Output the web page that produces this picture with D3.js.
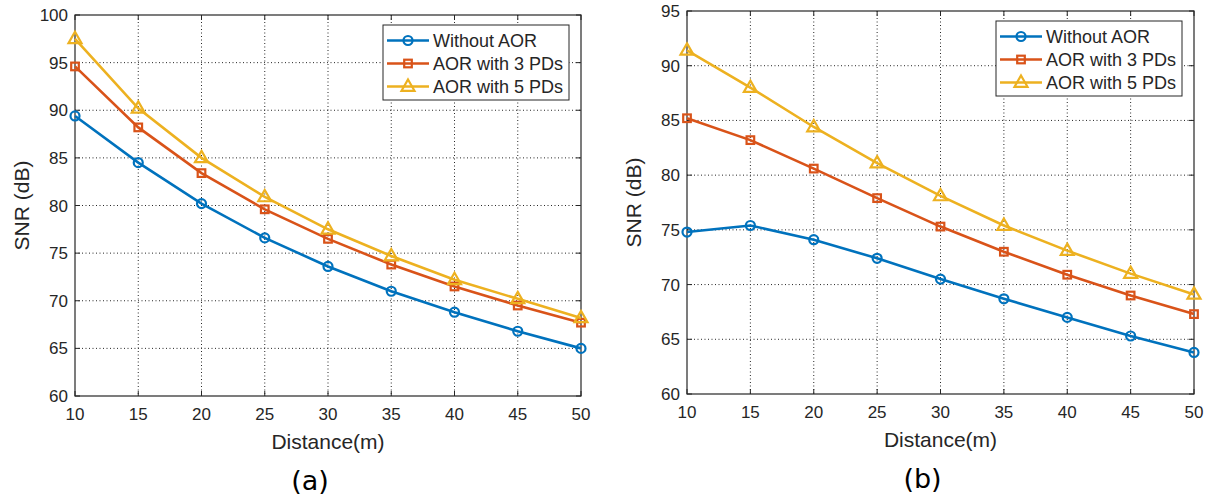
<!DOCTYPE html>
<html>
<head>
<meta charset="utf-8">
<script src="https://cdn.jsdelivr.net/npm/d3@7"></script>
<style>
  body { margin: 0; background: #fff; }
  text { font-family: "Liberation Sans", Arial, sans-serif; fill: #262626; }
</style>
</head>
<body>
<div id="graph"></div>
<script>
const distances = [10, 15, 20, 25, 30, 35, 40, 45, 50];
const seriesNames = ["Without AOR", "AOR with 3 PDs", "AOR with 5 PDs"];
const colors = ["#0072BD", "#D95319", "#EDB120"];

// panel (a)
const aWithout = [89.4, 84.5, 80.2, 76.6, 73.6, 71.0, 68.8, 66.8, 65.0];
const aPd3 = [94.6, 88.2, 83.4, 79.6, 76.5, 73.8, 71.5, 69.5, 67.7];
const aPd5 = [97.5, 90.2, 85.0, 80.9, 77.5, 74.7, 72.2, 70.2, 68.2];
const aTicksY = [60, 65, 70, 75, 80, 85, 90, 95, 100];

// panel (b)
const bWithout = [74.8, 75.4, 74.1, 72.4, 70.5, 68.7, 67.0, 65.3, 63.8];
const bPd3 = [85.2, 83.2, 80.6, 77.9, 75.3, 73.0, 70.9, 69.0, 67.3];
const bPd5 = [91.4, 88.0, 84.4, 81.1, 78.1, 75.4, 73.1, 71.0, 69.1];
const bTicksY = [60, 65, 70, 75, 80, 85, 90, 95];

const svg = d3.select("#graph").append("svg")
  .attr("width", 1207)
  .attr("height", 499);

function marker(g, i, x, y) {
  const c = colors[i];
  if (i === 0) {
    g.append("circle").attr("cx", x).attr("cy", y).attr("r", 4.5)
      .attr("fill", "none").attr("stroke", c).attr("stroke-width", 2.2);
  } else if (i === 1) {
    g.append("rect").attr("x", x - 3.8).attr("y", y - 3.8).attr("width", 7.6).attr("height", 7.6)
      .attr("fill", "none").attr("stroke", c).attr("stroke-width", 2.2);
  } else {
    g.append("path").attr("d", `M${x},${y - 7}L${x + 6.5},${y + 4.3}L${x - 6.5},${y + 4.3}Z`)
      .attr("fill", "none").attr("stroke", c).attr("stroke-width", 2.2);
  }
}

function drawPanel(box, ticksY, series, letter) {
  const x = d3.scaleLinear().domain([10, 50]).range([box.left, box.right]);
  const y = d3.scaleLinear().domain([ticksY[0], ticksY[ticksY.length - 1]]).range([box.bottom, box.top]);
  const g = svg.append("g");

  // grid
  g.selectAll(".gx").data(distances.slice(1, -1)).enter().append("line")
    .attr("x1", d => x(d)).attr("x2", d => x(d))
    .attr("y1", box.top).attr("y2", box.bottom)
    .attr("stroke", "#262626").attr("stroke-width", 1).attr("stroke-dasharray", "1,2.5");
  g.selectAll(".gy").data(ticksY.slice(1, -1)).enter().append("line")
    .attr("x1", box.left).attr("x2", box.right)
    .attr("y1", d => y(d)).attr("y2", d => y(d))
    .attr("stroke", "#262626").attr("stroke-width", 1).attr("stroke-dasharray", "1,2.5");

  // ticks inward, mirrored
  const tk = 5;
  distances.forEach(d => {
    g.append("line").attr("x1", x(d)).attr("x2", x(d)).attr("y1", box.bottom).attr("y2", box.bottom - tk)
      .attr("stroke", "#262626");
    g.append("line").attr("x1", x(d)).attr("x2", x(d)).attr("y1", box.top).attr("y2", box.top + tk)
      .attr("stroke", "#262626");
    g.append("text").attr("x", x(d)).attr("y", box.bottom + 24)
      .attr("text-anchor", "middle").attr("font-size", 17).text(d);
  });
  ticksY.forEach(d => {
    g.append("line").attr("x1", box.left).attr("x2", box.left + tk).attr("y1", y(d)).attr("y2", y(d))
      .attr("stroke", "#262626");
    g.append("line").attr("x1", box.right).attr("x2", box.right - tk).attr("y1", y(d)).attr("y2", y(d))
      .attr("stroke", "#262626");
    g.append("text").attr("x", box.left - 7).attr("y", y(d) + 6)
      .attr("text-anchor", "end").attr("font-size", 17).text(d);
  });

  g.append("rect").attr("x", box.left).attr("y", box.top)
    .attr("width", box.right - box.left).attr("height", box.bottom - box.top)
    .attr("fill", "none").attr("stroke", "#262626").attr("stroke-width", 1.2);

  // lines
  const line = d3.line().x((d, i) => x(distances[i])).y(d => y(d));
  series.forEach((s, i) => {
    g.append("path").datum(s).attr("d", line)
      .attr("fill", "none").attr("stroke", colors[i]).attr("stroke-width", 2.6);
    s.forEach((v, j) => marker(g, i, x(distances[j]), y(v)));
  });

  // labels
  g.append("text").attr("x", (box.left + box.right) / 2).attr("y", box.bottom + 53)
    .attr("text-anchor", "middle").attr("font-size", 21).text("Distance(m)");
  g.append("text")
    .attr("transform", `translate(${box.left - 46},${(box.top + box.bottom) / 2}) rotate(-90)`)
    .attr("text-anchor", "middle").attr("font-size", 21).text("SNR (dB)");
  g.append("text").attr("x", (box.left + box.right) / 2 - 18).attr("y", box.bottom + 94)
    .attr("text-anchor", "middle").attr("font-size", 27)
    .style("font-family", "'DejaVu Sans', sans-serif").style("fill", "#000")
    .text(letter);

  // legend
  const lg = g.append("g").attr("transform", `translate(${box.right - 198},${box.top + 10})`);
  lg.append("rect").attr("width", 186).attr("height", 75)
    .attr("fill", "#fff").attr("stroke", "#262626").attr("stroke-width", 1);
  seriesNames.forEach((n, i) => {
    const ly = 15.5 + i * 23;
    lg.append("line").attr("x1", 4).attr("x2", 46).attr("y1", ly).attr("y2", ly)
      .attr("stroke", colors[i]).attr("stroke-width", 2.6);
    marker(lg, i, 25, ly);
    lg.append("text").attr("x", 50).attr("y", ly + 6.5).attr("font-size", 18).text(n);
  });
}

drawPanel({ left: 75, right: 581, top: 15, bottom: 396 }, aTicksY, [aWithout, aPd3, aPd5], "(a)");
drawPanel({ left: 687, right: 1194, top: 11, bottom: 394 }, bTicksY, [bWithout, bPd3, bPd5], "(b)");
</script>
</body>
</html>
